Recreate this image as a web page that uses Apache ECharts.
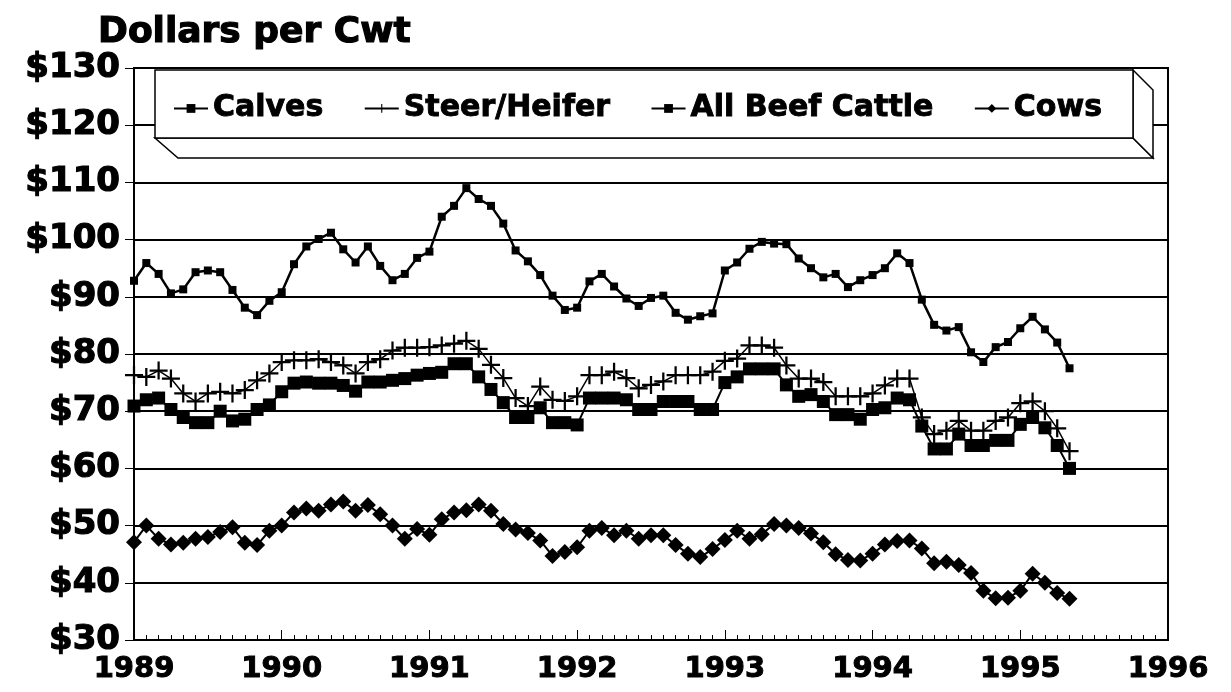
<!DOCTYPE html>
<html>
<head>
<meta charset="utf-8">
<script src="https://cdn.jsdelivr.net/npm/echarts@6/dist/echarts.min.js"></script>
<style>
  html, body { margin: 0; padding: 0; background: #ffffff; }
  #chart { width: 1231px; height: 692px; }
</style>
</head>
<body>
<div id="chart"></div>
<script>
// monthly prices, Jan 1989 .. May 1995
const startYear = 1989
const yearTicks = [1989, 1990, 1991, 1992, 1993, 1994, 1995, 1996]
const seriesNames = ['Calves', 'Steer/Heifer', 'All Beef Cattle', 'Cows']

const calves = [
  92.8, 95.9, 94.0, 90.6, 91.3, 94.3, 94.6, 94.3, 91.2, 88.1, 86.8, 89.3,
  90.8, 95.7, 98.8, 100.1, 101.2, 98.3, 96.0, 98.8, 95.4, 92.9, 94.0, 96.8,
  97.9, 104.0, 105.9, 109.0, 107.1, 105.9, 102.8, 98.1, 96.2, 93.8, 90.2, 87.7,
  88.1, 92.7, 94.0, 91.8, 89.7, 88.4, 89.8, 90.2, 87.2, 86.0, 86.6, 87.1,
  94.6, 96.0, 98.4, 99.6, 99.3, 99.2, 96.7, 95.0, 93.4, 94.0, 91.7, 92.9,
  93.8, 95.0, 97.6, 95.9, 89.5, 85.1, 84.1, 84.7, 80.3, 78.6, 81.2, 82.1,
  84.5, 86.5, 84.3, 82.0, 77.5
]
const steerHeifer = [
  76.3, 76.0, 77.1, 75.7, 73.1, 71.7, 73.1, 73.4, 73.1, 73.7, 75.4, 76.6,
  78.6, 78.9, 78.9, 79.1, 78.6, 78.0, 76.6, 78.6, 79.1, 80.6, 81.1, 81.1,
  81.2, 81.5, 81.8, 82.3, 80.9, 78.1, 75.8, 72.3, 70.9, 74.3, 72.0, 71.8,
  72.6, 76.3, 76.3, 76.9, 75.8, 74.0, 74.6, 75.2, 76.3, 76.3, 76.3, 76.9,
  78.8, 79.2, 81.5, 81.5, 81.1, 78.0, 75.7, 75.7, 75.1, 72.6, 72.6, 72.6,
  73.1, 74.5, 75.7, 75.7, 68.9, 66.0, 66.6, 68.3, 66.6, 66.6, 68.3, 68.9,
  71.4, 71.7, 70.0, 67.0, 63.0
]
const allBeef = [
  70.9, 72.0, 72.3, 70.3, 68.9, 68.0, 68.0, 70.0, 68.3, 68.6, 70.3, 71.1,
  73.4, 74.9, 75.1, 74.9, 74.9, 74.5, 73.5, 75.1, 75.1, 75.4, 75.7, 76.3,
  76.6, 76.8, 78.3, 78.3, 76.0, 73.8, 71.5, 68.9, 68.9, 70.6, 68.0, 68.0,
  67.6, 72.3, 72.3, 72.3, 72.0, 70.3, 70.3, 71.7, 71.7, 71.7, 70.3, 70.3,
  75.0, 76.0, 77.4, 77.4, 77.4, 74.6, 72.6, 72.9, 71.7, 69.4, 69.4, 68.6,
  70.3, 70.6, 72.3, 72.0, 67.4, 63.4, 63.4, 66.0, 64.0, 64.0, 64.9, 64.9,
  67.7, 68.9, 67.1, 64.0, 60.0
]
const cows = [
  47.1, 50.0, 47.7, 46.7, 47.0, 47.7, 48.0, 48.9, 49.7, 47.0, 46.6, 49.1,
  50.0, 52.3, 53.0, 52.6, 53.7, 54.2, 52.6, 53.6, 52.0, 50.0, 47.7, 49.4,
  48.4, 51.1, 52.3, 52.7, 53.7, 52.6, 50.3, 49.3, 48.7, 47.4, 44.7, 45.4,
  46.2, 49.1, 49.6, 48.3, 49.1, 47.7, 48.3, 48.3, 46.6, 45.1, 44.5, 45.9,
  47.5, 49.1, 47.7, 48.5, 50.3, 50.0, 49.6, 48.6, 47.1, 45.0, 44.0, 43.9,
  45.1, 46.7, 47.3, 47.4, 46.0, 43.4, 43.7, 43.1, 41.7, 38.6, 37.3, 37.4,
  38.6, 41.6, 40.0, 38.2, 37.2
]

const FONT = "'DejaVu Sans', 'Liberation Sans', sans-serif"
const plusIcon = 'path://M7,0H9V7H16V9H9V16H7V9H0V7H7Z'
// heavy black text (stroke thickens the bold face)
const heavy = (size, border) => ({
  fontFamily: FONT,
  fontWeight: 'bold',
  fontSize: size,
  color: '#000',
  textBorderColor: '#000',
  textBorderWidth: border
})

// month index -> fractional year on the x axis
const toPoints = (arr) => arr.map((v, i) => [startYear + i / 12, v])

const myChart = echarts.init(document.getElementById('chart'))

const makeLine = (name, data, symbol, size, width) => ({
  name: name,
  type: 'line',
  data: toPoints(data),
  symbol: symbol,
  symbolSize: size,
  showAllSymbol: true,
  animation: false,
  itemStyle: { color: '#000' },
  lineStyle: { color: '#000', width: width }
})

const option = {
  backgroundColor: '#fff',
  title: {
    text: 'Dollars per Cwt',
    left: 93,
    top: 10,
    textStyle: heavy(36, 1.2)
  },
  grid: {
    left: 134,
    right: 63,
    top: 68,
    bottom: 52,
    show: true,
    borderColor: '#000',
    borderWidth: 2
  },
  legend: {
    z: 60,
    data: seriesNames,
    left: 168,
    top: 88,
    itemGap: 40,
    itemWidth: 34,
    itemHeight: 11,
    textStyle: heavy(30, 0.9)
  },
  graphic: [
    // 3D legend box: bottom bevel, right bevel, front face
    {
      type: 'polygon', z: 50,
      shape: { points: [[155, 138], [1133, 138], [1153, 158], [178, 158]] },
      style: { fill: '#fff', stroke: '#000', lineWidth: 1.5 }
    },
    {
      type: 'polygon', z: 50,
      shape: { points: [[1133, 70], [1153, 90], [1153, 158], [1133, 138]] },
      style: { fill: '#fff', stroke: '#000', lineWidth: 1.5 }
    },
    {
      type: 'rect', z: 51,
      shape: { x: 155, y: 70, width: 978, height: 68 },
      style: { fill: '#fff', stroke: '#000', lineWidth: 1.5 }
    }
  ],
  xAxis: {
    type: 'value',
    min: yearTicks[0],
    max: yearTicks[yearTicks.length - 1],
    interval: 1,
    axisLine: { lineStyle: { color: '#000', width: 2 } },
    axisTick: { show: true, inside: true, length: 10, lineStyle: { color: '#000' } },
    minorTick: { show: true, splitNumber: 12, length: 5, lineStyle: { color: '#000' } },
    splitLine: { show: false },
    axisLabel: Object.assign({ margin: 15, formatter: (v) => String(v) }, heavy(29, 1))
  },
  yAxis: {
    type: 'value',
    min: 30,
    max: 130,
    interval: 10,
    axisLine: { show: true, lineStyle: { color: '#000', width: 2 } },
    axisTick: { show: true, length: 9, lineStyle: { color: '#000' } },
    splitLine: { show: true, lineStyle: { color: '#000', width: 2 } },
    axisLabel: Object.assign({ margin: 14, formatter: (v) => '$' + v }, heavy(34, 1.2))
  },
  series: [
    makeLine(seriesNames[0], calves, 'rect', 8, 2.5),
    makeLine(seriesNames[1], steerHeifer, plusIcon, 18, 1.5),
    makeLine(seriesNames[2], allBeef, 'rect', 13, 2),
    makeLine(seriesNames[3], cows, 'diamond', 16, 2)
  ]
}

myChart.setOption(option, true)
addEventListener('resize', () => {
  myChart.resize()
})
</script>
</body>
</html>
